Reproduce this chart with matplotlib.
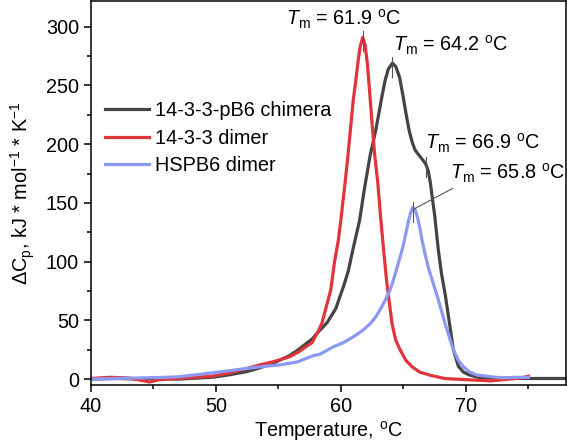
import numpy as np
import matplotlib
matplotlib.use("Agg")
import matplotlib.pyplot as plt
from matplotlib.ticker import MultipleLocator

plt.rcParams['font.family'] = ['Liberation Sans', 'DejaVu Sans']
plt.rcParams['mathtext.fontset'] = 'custom'
plt.rcParams['mathtext.rm'] = 'Liberation Sans'
plt.rcParams['mathtext.it'] = 'Liberation Sans:italic'

# 14-3-3-pB6 chimera
t_chim = [40, 42, 44, 45, 47.1, 49.8, 51, 52.5, 53.5, 54.6, 55.9, 56.6, 57.2, 57.7, 58.1, 58.9,
          59.6, 60.25, 60.6, 60.9, 61.2, 61.5, 61.92, 62.34, 62.8, 63.28, 63.54, 63.8, 64.13, 64.4,
          64.7, 64.96, 65.2, 65.46, 65.7, 65.94, 66.3, 66.6, 66.8, 67.0, 67.15, 67.5, 67.8, 68.05,
          68.35, 68.7, 69.0, 69.4, 69.8, 70.3, 71, 72, 75, 78]
cp_chim = [0, 0.5, 0, 0.5, 0, 1.6, 3.5, 6.4, 9.5, 13.5, 20, 25, 30, 34, 39, 48,
           60, 80, 92, 107, 121, 135, 164, 190, 212, 240, 254, 264, 269, 266,
           257, 242, 227, 212, 202, 195, 190, 186, 183, 177, 168, 140, 110, 90,
           72, 47, 25, 11, 6, 3.4, 1.5, 1, 0.5, 0.5]
# 14-3-3 dimer
t_dim = [40, 41.5, 43, 44, 44.7, 45.5, 47, 49.8, 51, 52.5, 53.5, 54.6, 55.9, 56.6, 57.2, 57.7,
         58.0, 58.3, 58.5, 58.8, 59.2, 59.5, 59.8, 60.0, 60.3, 60.55, 60.75, 61.0, 61.2, 61.4,
         61.55, 61.76, 61.95, 62.13, 62.34, 62.52, 62.7, 62.96, 63.2, 63.45, 63.68, 64.1, 64.4,
         64.74, 65.2, 65.7, 66.3, 67.1, 68.3, 70, 71, 72, 73.5, 74.5, 75]
cp_dim = [0.5, 1.5, 1, -1, -2.5, -0.5, 0.5, 2.6, 5, 9, 12, 14.8, 19, 23, 27.5, 31,
          37, 43, 48, 60, 76, 100, 118, 135, 163, 188, 210, 238, 254, 272,
          283, 291, 284, 268, 240, 215, 192, 167, 136, 107, 82, 47, 33,
          25, 16, 10.5, 6, 3.4, 0.5, -0.5, -1, -1.5, 0, 1, 2.5]
# HSPB6 dimer
t_hsp = [40, 42, 44, 46, 47.1, 49.8, 51, 52.5, 54, 55.1, 56.2, 56.5, 57.8, 58.3, 59.4, 60.2,
         61.0, 61.7, 62.34, 62.8, 63.14, 63.6, 63.94, 64.2, 64.5, 64.8, 65.0, 65.2, 65.4, 65.6,
         65.75, 65.95, 66.15, 66.35, 66.5, 66.75, 67.0, 67.35, 67.7, 68.0, 68.35, 68.7, 69.0,
         69.4, 69.8, 70.3, 70.9, 72, 73, 74, 75]
cp_hsp = [0, 0.5, 1, 1.5, 2, 5.4, 7, 9.1, 11, 12, 14, 14.5, 20, 21, 27.5, 31,
          36, 41, 47, 53, 59, 68, 76, 84, 95, 106, 114, 124, 134, 142,
          146, 144, 137, 127, 118, 106, 95, 83, 71, 60, 47, 35, 25,
          16, 10.5, 6, 3.4, 2, 1, 1.5, 1.5]

labels = ['14-3-3-pB6 chimera', '14-3-3 dimer', 'HSPB6 dimer']
colors = ['#444444', '#e0353b', '#8d98f2']

# Tm annotations
tm_vals = [61.9, 64.2, 66.9, 65.8]
tm_mark = [61.76, 64.13, 66.85, 65.75]
tm_peak = [291, 269, 184, 146]
txt_pos = [(55.6, 296), (64.2, 274), (66.7, 191), (68.7, 165)]

fig = plt.figure(figsize=(5.67, 4.44), dpi=100)
ax = fig.add_axes([0.16, 0.133, 0.838, 0.865])

ax.plot(t_chim, cp_chim, color=colors[0], lw=2.3, label=labels[0])
ax.plot(t_dim, cp_dim, color=colors[1], lw=2.3, label=labels[1])
ax.plot(t_hsp, cp_hsp, color=colors[2], lw=2.3, label=labels[2])

ax.set_xlim(40, 78)
ax.set_ylim(-5, 322)
ax.xaxis.set_major_locator(MultipleLocator(10))
ax.xaxis.set_minor_locator(MultipleLocator(5))
ax.yaxis.set_major_locator(MultipleLocator(50))
ax.yaxis.set_minor_locator(MultipleLocator(25))
ax.tick_params(which='both', direction='out', labelsize=14.3, width=1.1)
ax.tick_params(which='major', length=5)
ax.tick_params(which='minor', length=3)
for s in ax.spines.values():
    s.set_linewidth(1.1)

ax.set_xlabel(r'Temperature, $^{\rm o}$C', fontsize=14.3, labelpad=2)
ax.set_ylabel(r'$\Delta$C$_{\rm p}$, kJ * mol$^{-1}$ * K$^{-1}$', fontsize=14.3, labelpad=6)

# peak markers and labels
for tm, x0, pk, (tx, ty) in zip(tm_vals, tm_mark, tm_peak, txt_pos):
    ax.plot([x0, x0], [pk - 12, pk + 5], color='#555555', lw=0.8)
    ax.text(tx, ty, r'$T_{\rm m}$ = %.1f $^{\rm o}$C' % tm, fontsize=14.3, va='bottom', ha='left')
ax.plot([65.8, 68.95], [144.5, 162.4], color='#555555', lw=0.8)

ax.legend(loc='upper left', bbox_to_anchor=(0.0, 0.775), frameon=False, fontsize=14.3,
          handlelength=2.25, handletextpad=0.3, labelspacing=0.42, borderaxespad=0.3)

fig.savefig('out.png', dpi=100)
